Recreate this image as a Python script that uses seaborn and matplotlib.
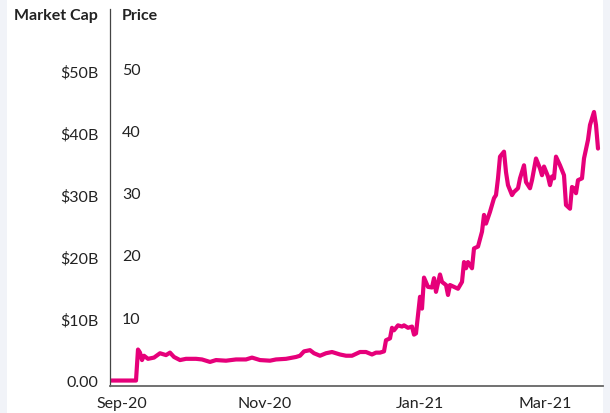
import matplotlib
matplotlib.use("Agg")
import matplotlib.pyplot as plt
import matplotlib.transforms as mtransforms
from matplotlib.patches import Rectangle
import seaborn as sns
import pandas as pd

# day offset from the first sample, price in USD
days = [0, 13, 14, 15, 16, 17, 19, 22, 25, 28, 30, 32, 35, 38, 43, 46, 50, 53,
        58, 63, 68, 71, 75, 80, 83, 88, 93, 95, 97, 100, 102, 105, 108, 111,
        115, 118, 121, 125, 128, 131, 133, 135, 137, 138, 140, 141, 142, 144,
        146, 147, 149, 151, 152, 153, 155, 156, 157, 159, 161, 162, 163, 165,
        166, 168, 169, 170, 172, 174, 176, 177, 178, 179, 181, 182, 184, 186,
        187, 188, 190, 192, 193, 194, 195, 197, 198, 199, 201, 202, 204, 205,
        207, 208, 210, 211, 213, 214, 215, 216, 217, 219, 220, 221, 222, 223,
        225, 227, 228, 230, 231, 232, 233, 234, 236, 237, 239, 240, 242, 243,
        244]
price = [0.0, 0.0, 5.0, 4.5, 3.3, 4.0, 3.5, 3.7, 4.4, 4.1, 4.5, 3.8, 3.3, 3.5,
         3.5, 3.4, 3.0, 3.3, 3.2, 3.4, 3.4, 3.7, 3.3, 3.2, 3.4, 3.5, 3.8, 4.0,
         4.7, 4.9, 4.4, 4.0, 4.4, 4.6, 4.2, 4.0, 4.0, 4.6, 4.6, 4.2, 4.5, 4.5,
         4.7, 6.5, 6.8, 8.5, 8.1, 8.9, 8.7, 8.9, 8.5, 8.7, 7.4, 7.6, 13.5, 11.6,
         16.6, 15.1, 15.0, 16.5, 14.3, 17.1, 15.9, 15.4, 13.8, 15.4, 15.1, 14.8,
         15.9, 19.1, 18.1, 19.1, 18.1, 21.3, 21.6, 24.0, 26.7, 25.3, 27.2, 29.4,
         29.9, 32.6, 36.1, 36.9, 33.6, 31.5, 29.9, 30.4, 31.0, 32.6, 34.7, 32.0,
         31.0, 32.3, 35.8, 35.0, 34.2, 33.1, 34.5, 32.9, 31.5, 32.9, 32.6, 36.1,
         34.7, 33.1, 28.3, 27.7, 31.2, 31.0, 30.2, 32.3, 32.6, 35.8, 38.8, 41.2,
         43.3, 41.2, 37.4]

price_ticks = [10, 20, 30, 40, 50]
cap_ticks = [0, 10, 20, 30, 40, 50]
cap_labels = ["0.00", "$10B", "$20B", "$30B", "$40B", "$50B"]
month_pos = [6, 77.5, 155, 217.5]
month_labels = ["Sep-20", "Nov-20", "Jan-21", "Mar-21"]

df = pd.DataFrame({"day": days, "price": price})

sns.set_theme(style="white")
plt.rcParams["font.family"] = ["Lato", "DejaVu Sans"]
txt = "#222222"
fs = 11.5

fig = plt.figure(figsize=(6.1, 4.14), dpi=100, facecolor="#f1f3f8")
fig.patches.append(Rectangle((7 / 610, 0), 596 / 610, 1, transform=fig.transFigure,
                             facecolor="white", edgecolor="none", zorder=-10))
ax = fig.add_axes([110 / 610, 27.5 / 414, 493 / 610, 376.5 / 414])
ax.set_facecolor("none")

sns.lineplot(data=df, x="day", y="price", ax=ax, color="#e6007a",
             linewidth=3.0, solid_joinstyle="round")

ax.set_xlim(0, 246.5)
ax.set_ylim(-0.8, 59.9)
ax.set_xlabel("")
ax.set_ylabel("")

for s in ["top", "right"]:
    ax.spines[s].set_visible(False)
ax.spines["left"].set_color("#444444")
ax.spines["left"].set_linewidth(0.9)
ax.spines["bottom"].set_color("#666666")
ax.spines["bottom"].set_linewidth(1.3)

ax.set_yticks(cap_ticks, cap_labels)
ax.tick_params(axis="y", length=0, pad=8.5, labelsize=fs, labelcolor=txt)
ax.set_xticks(month_pos, month_labels)
ax.tick_params(axis="x", length=0, pad=7.5, labelsize=fs, labelcolor=txt)

trans = mtransforms.blended_transform_factory(ax.transAxes, ax.transData)
for v in price_ticks:
    ax.text(12 / 493, v, str(v), transform=trans, ha="left", va="center",
            fontsize=fs, color=txt)

ax.text(-12 / 493, 1 - 6 / 376.5, "Market Cap", transform=ax.transAxes,
        ha="right", va="center", fontsize=fs, fontweight="bold", color=txt)
ax.text(12 / 493, 1 - 6 / 376.5, "Price", transform=ax.transAxes,
        ha="left", va="center", fontsize=fs, fontweight="bold", color=txt)

fig.savefig("out.png", dpi=100, facecolor=fig.get_facecolor())
